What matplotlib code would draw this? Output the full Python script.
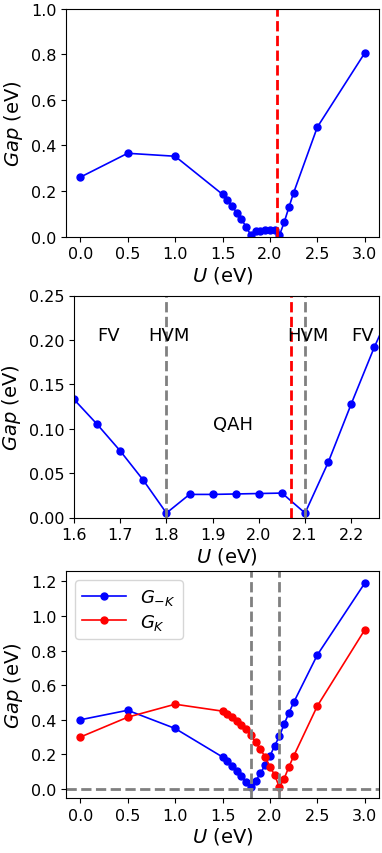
import numpy as np
import matplotlib.pyplot as plt

U = [0.0, 0.5, 1.0, 1.5, 1.55, 1.6, 1.65, 1.7, 1.75, 1.8, 1.85, 1.9, 1.95,
     2.0, 2.05, 2.1, 2.15, 2.2, 2.25, 2.5, 3.0]
gap = [0.26, 0.365, 0.352, 0.185, 0.16, 0.133, 0.105, 0.075, 0.042, 0.005,
       0.026, 0.026, 0.0265, 0.027, 0.0275, 0.005, 0.062, 0.128, 0.192, 0.48, 0.805]
g_minus_k = [0.40, 0.455, 0.35, 0.185, 0.16, 0.133, 0.105, 0.075, 0.042, 0.01,
             0.048, 0.09, 0.14, 0.19, 0.25, 0.305, 0.375, 0.44, 0.50, 0.775, 1.19]
g_k = [0.30, 0.415, 0.49, 0.45, 0.435, 0.415, 0.395, 0.37, 0.345, 0.31,
       0.27, 0.23, 0.185, 0.13, 0.08, 0.01, 0.06, 0.128, 0.19, 0.48, 0.92]

U_red = 2.07
U_hvm = [1.8, 2.1]
phase_labels = [("FV", 1.674, 0.205), ("HVM", 1.806, 0.205), ("QAH", 1.944, 0.1055),
                ("HVM", 2.106, 0.205), ("FV", 2.225, 0.205)]

W, H = 382, 854
fig = plt.figure(figsize=(W / 100, H / 100), dpi=100)

def box(l, r, t, b):
    return [l / W, 1 - b / H, (r - l) / W, (b - t) / H]

ms = 5
lw = 1.2

# top panel
ax1 = fig.add_axes(box(66, 379, 9.5, 237.5))
ax1.plot(U, gap, 'o-', color='blue', ms=ms, lw=lw)
ax1.axvline(U_red, color='red', ls='--', lw=2)
ax1.set_xlim(-0.15, 3.15)
ax1.set_ylim(0, 1.0)
ax1.set_xticks([0.0, 0.5, 1.0, 1.5, 2.0, 2.5, 3.0])
ax1.set_xlabel(r'$U$ (eV)', fontsize=14, labelpad=2)
ax1.set_ylabel(r'$Gap$ (eV)', fontsize=14)

# middle panel
ax2 = fig.add_axes(box(74, 379, 296.5, 518.5))
ax2.plot(U, gap, 'o-', color='blue', ms=ms, lw=lw)
for x in U_hvm:
    ax2.axvline(x, color='grey', ls='--', lw=2)
ax2.axvline(U_red, color='red', ls='--', lw=2)
for txt, x, y in phase_labels:
    ax2.text(x, y, txt, fontsize=13, ha='center', va='center')
ax2.set_xlim(1.6, 2.26)
ax2.set_ylim(0, 0.25)
ax2.set_xticks([1.6, 1.7, 1.8, 1.9, 2.0, 2.1, 2.2])
ax2.set_xlabel(r'$U$ (eV)', fontsize=14, labelpad=2)
ax2.set_ylabel(r'$Gap$ (eV)', fontsize=14)

# bottom panel
ax3 = fig.add_axes(box(66, 379, 572, 799))
ax3.plot(U, g_minus_k, 'o-', color='blue', ms=ms, lw=lw, label=r'$G_{-K}$')
ax3.plot(U, g_k, 'o-', color='red', ms=ms, lw=lw, label=r'$G_{K}$')
ax3.axhline(0, color='grey', ls='--', lw=2)
for x in U_hvm:
    ax3.axvline(x, color='grey', ls='--', lw=2)
ax3.set_xlim(-0.15, 3.15)
ax3.set_ylim(-0.052, 1.26)
ax3.set_xticks([0.0, 0.5, 1.0, 1.5, 2.0, 2.5, 3.0])
ax3.set_yticks([0.0, 0.2, 0.4, 0.6, 0.8, 1.0, 1.2])
ax3.set_xlabel(r'$U$ (eV)', fontsize=14, labelpad=2)
ax3.set_ylabel(r'$Gap$ (eV)', fontsize=14)
ax3.legend(loc='upper left', fontsize=13, labelspacing=0.25, handlelength=2.4)

for ax in (ax1, ax2, ax3):
    ax.tick_params(labelsize=11.5)

fig.savefig('out.png', dpi=100)
